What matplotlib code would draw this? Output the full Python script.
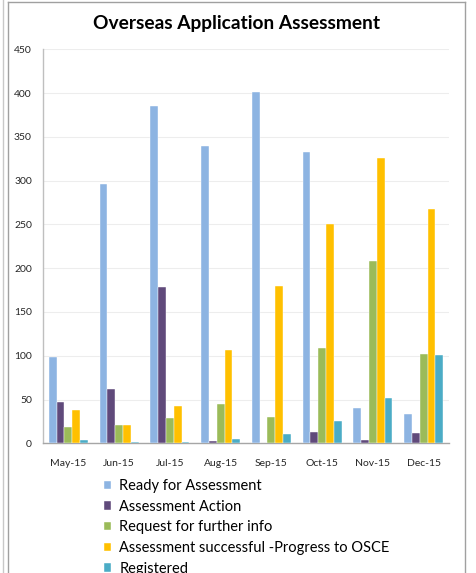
import numpy as np
import matplotlib
matplotlib.use("Agg")
import matplotlib.pyplot as plt
from matplotlib.lines import Line2D

plt.rcParams["font.family"] = ["Lato", "DejaVu Sans"]

months = ["May-15", "Jun-15", "Jul-15", "Aug-15", "Sep-15", "Oct-15", "Nov-15", "Dec-15"]

ready = [99, 296, 385, 340, 401, 333, 40, 33]
action = [47, 62, 179, 3, 0.5, 12.5, 4, 11.5]
request_info = [19, 21, 29, 45, 30, 109, 208, 102]
osce = [38, 21, 43, 107, 180, 250, 326, 268]
registered = [4, 2, 1, 5, 11, 25, 52, 101]

series = [
    ("Ready for Assessment", ready, "#8DB4E2"),
    ("Assessment Action", action, "#604A7B"),
    ("Request for further info", request_info, "#9BBB59"),
    ("Assessment successful -Progress to OSCE", osce, "#FFC000"),
    ("Registered", registered, "#4BACC6"),
]

W, H = 477, 573
fig = plt.figure(figsize=(W / 100, H / 100), dpi=100)
ax = fig.add_axes([43 / W, 1 - 443.3 / H, (449 - 43) / W, (443.3 - 49.3) / H])

x = np.arange(len(months))
width = 1 / 6.5
for i, (name, vals, color) in enumerate(series):
    ax.bar(x + (i - 2) * width, vals, width, color=color, label=name,
           edgecolor="white", linewidth=0.3, zorder=3)

ax.set_xlim(-0.5, len(months) - 0.5)
ax.set_ylim(0, 450)
ax.set_yticks(np.arange(0, 451, 50))
ax.set_xticks(x)
ax.set_xticklabels(months)
ax.tick_params(axis="both", length=0, labelsize=7.5, colors="#262626")
ax.tick_params(axis="y", pad=8)
ax.tick_params(axis="x", pad=11)
ax.grid(axis="y", color="#EDEDED", linewidth=0.8, zorder=0)

for side in ["top", "right"]:
    ax.spines[side].set_visible(False)
ax.spines["left"].set_color("#BFBFBF")
ax.spines["bottom"].set_color("#A6A6A6")
ax.spines["left"].set_linewidth(1.0)
ax.spines["bottom"].set_linewidth(1.0)

fig.text(237 / W, 1 - 23 / H, "Overseas Application Assessment", ha="center", va="center",
         fontsize=13.8, fontweight="bold", color="#000000")

fig.legend(loc="upper left", bbox_to_anchor=(98 / W, 1 - 473 / H), frameon=False,
           fontsize=10.5, handlelength=0.5, handleheight=0.5, handletextpad=0.55,
           labelspacing=0.46, borderaxespad=0)

# chart frame and the outer page edge
line_color = "#A0A0A0"
fig.add_artist(Line2D([8.5 / W, 8.5 / W], [0, 1 - 1.5 / H], color=line_color, lw=1, transform=fig.transFigure))
fig.add_artist(Line2D([8.5 / W, 465 / W], [1 - 1.5 / H, 1 - 1.5 / H], color=line_color, lw=1, transform=fig.transFigure))
fig.add_artist(Line2D([465 / W, 465 / W], [0, 1 - 1.5 / H], color=line_color, lw=1, transform=fig.transFigure))
fig.add_artist(Line2D([2.5 / W, 2.5 / W], [0, 1], color="#C8C8C8", lw=1, transform=fig.transFigure))

fig.savefig("out.png", dpi=100)
